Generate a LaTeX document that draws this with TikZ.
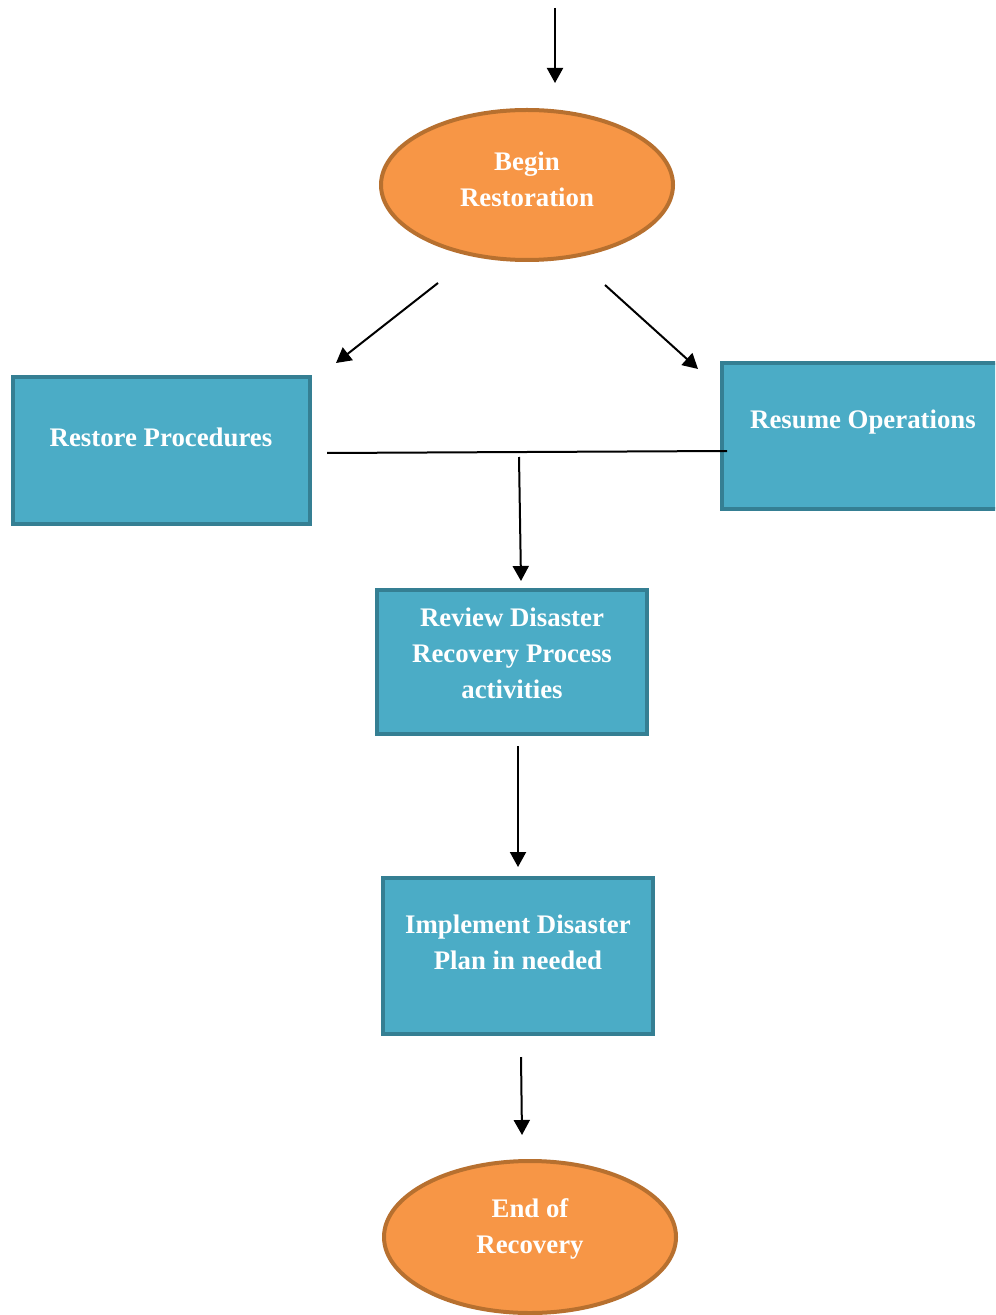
\documentclass[tikz,border=0pt]{standalone}
\usepackage{fontspec}
\setmainfont{Liberation Serif}
\usetikzlibrary{arrows.meta,shapes.geometric}
\definecolor{termfill}{HTML}{F79646}
\definecolor{termline}{HTML}{B7702F}
\definecolor{boxfill}{HTML}{4BACC6}
\definecolor{boxline}{HTML}{357F93}
\begin{document}
\begin{tikzpicture}[x=0.5pt,y=-0.5pt,
  terminal/.style={ellipse, draw=termline, fill=termfill, line width=2pt, inner sep=0pt},
  stepbox/.style={rectangle, draw=boxline, fill=boxfill, line width=2.2pt, inner sep=0pt},
  lbl/.style={text=white, font=\bfseries\fontsize{13.4}{18}\selectfont, align=center, inner sep=0pt},
  flow/.style={line width=1pt, -{Triangle[length=7.5pt,width=8pt]}},
  link/.style={line width=1pt}]
\useasboundingbox (0,0) rectangle (995,1315);
\clip (0,0) rectangle (995,1315);

% shapes
\node[terminal, minimum width=146pt, minimum height=75pt] (begin) at (527,185) {};
\node[stepbox, minimum width=148.5pt, minimum height=73.5pt] (restore) at (161.5,450.5) {};
\node[stepbox, minimum width=141pt, minimum height=73pt] (resume) at (863,436) {};
\node[stepbox, minimum width=135pt, minimum height=72pt] (review) at (512,662) {};
\node[stepbox, minimum width=135pt, minimum height=78pt] (implement) at (518,956) {};
\node[terminal, minimum width=146pt, minimum height=76pt] (finish) at (530,1237) {};

% labels
\node[lbl] (tbegin) at (527,179) {Begin\\Restoration};
\node[lbl] (trestore) at (161,437) {Restore Procedures};
\node[lbl] (tresume) at (863,422) {Resume Operations};
\node[lbl] (treview) at (512,653) {Review Disaster\\Recovery Process\\activities};
\node[lbl] (timplement) at (518,942) {Implement Disaster\\Plan in needed};
\node[lbl] (tfinish) at (530,1229) {End of\\Recovery};

% connector end points
\coordinate (inTop) at (555,8);
\coordinate (inTip) at (555,83);
\coordinate (splitL) at (438,283);
\coordinate (tipL) at (336,363);
\coordinate (splitR) at (605,285);
\coordinate (tipR) at (698,369);
\coordinate (joinL) at (327,453);
\coordinate (joinR) at (727,451);
\coordinate (joinMid) at (519,457);
\coordinate (tipReview) at (521,581);
\coordinate (reviewOut) at (518,746);
\coordinate (tipImpl) at (518,867);
\coordinate (implOut) at (521,1057);
\coordinate (tipEnd) at (522,1135);

% connectors
\draw[flow] (inTop) -- (inTip);
\draw[flow] (splitL) -- (tipL);
\draw[flow] (splitR) -- (tipR);
\draw[link] (joinL) -- (joinR);
\draw[flow] (joinMid) -- (tipReview);
\draw[flow] (reviewOut) -- (tipImpl);
\draw[flow] (implOut) -- (tipEnd);
\end{tikzpicture}
\end{document}
